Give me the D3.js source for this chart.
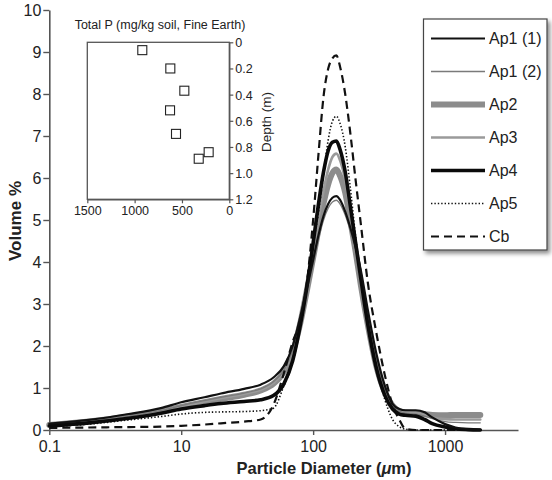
<!DOCTYPE html>
<html>
<head>
<meta charset="utf-8">
<script src="https://cdn.jsdelivr.net/npm/d3@7"></script>
<style>
  html, body { margin: 0; padding: 0; background: #fff; }
  svg { display: block; font-family: "Liberation Sans", Arial, Helvetica, sans-serif; }
</style>
</head>
<body>
<svg id="chart" width="552" height="480"></svg>
<script>
// ---------- data ----------
const diameters = [1,2,4,7,10,15,20,30,40,50,60,70,80,90,100,110,120,130,140,150,160,175,190,210,230,260,300,350,400,450,500,600,700,800,1000,1200,1500,1850];
const ap1a = [0.15,0.24,0.38,0.52,0.66,0.78,0.87,0.98,1.08,1.25, 1.52,2.0,2.7,3.4,4.05,4.65,5.1,5.38,5.53,5.57, 5.48,5.2,4.85,4.35,3.8,2.85,1.85,1.05,0.62,0.5, 0.47,0.47,0.42,0.3,0.14,0.06,0.02,0.01];
const ap1b = [0.13,0.2,0.33,0.46,0.58,0.7,0.78,0.88,0.98,1.15, 1.42,1.9,2.6,3.3,3.95,4.55,5.0,5.28,5.43,5.47, 5.38,5.12,4.78,4.3,3.7,2.75,1.75,0.98,0.6,0.45, 0.4,0.38,0.33,0.27,0.2,0.18,0.17,0.17];
const ap2  = [0.12,0.2,0.32,0.45,0.55,0.66,0.74,0.84,0.94,1.1, 1.38,1.85,2.55,3.35,4.1,4.8,5.4,5.85,6.12,6.2, 6.05,5.65,5.05,4.25,3.45,2.5,1.55,0.9,0.58,0.45, 0.42,0.4,0.38,0.36,0.35,0.36,0.36,0.36];
const ap3  = [0.12,0.2,0.32,0.45,0.56,0.68,0.76,0.86,0.96,1.12, 1.4,1.88,2.6,3.45,4.3,5.05,5.7,6.2,6.5,6.58, 6.42,5.95,5.3,4.4,3.55,2.5,1.5,0.85,0.55,0.45, 0.42,0.4,0.35,0.3,0.26,0.25,0.25,0.25];
const ap4  = [0.1,0.17,0.28,0.4,0.5,0.58,0.63,0.68,0.72,0.82, 1.1,1.65,2.5,3.45,4.45,5.4,6.15,6.65,6.85,6.88, 6.68,6.15,5.4,4.45,3.6,2.5,1.5,0.82,0.5,0.38, 0.35,0.33,0.25,0.15,0.07,0.03,0.01,0];
const ap5  = [0.08,0.14,0.24,0.32,0.38,0.42,0.43,0.44,0.46,0.52, 1.05,1.6,2.45,3.4,4.4,5.2,6.1,6.9,7.35,7.47, 7.3,6.75,5.85,4.6,3.6,2.55,1.55,0.72,0.25,0.08, 0.02,0,0,0,0,0,0,0];
const cb   = [0.05,0.06,0.07,0.08,0.1,0.13,0.16,0.2,0.25,0.6, 1.35,2.1,2.6,3.55,5.0,6.6,7.95,8.6,8.85,8.92, 8.65,8.0,7.15,5.95,4.9,3.5,2.35,1.3,0.6,0.25, 0.03,0,0,0,0,0,0,0];

const seriesNames = ["Ap1 (1)","Ap1 (2)","Ap2","Ap3","Ap4","Ap5","Cb"];
const seriesValues = [ap1a, ap1b, ap2, ap3, ap4, ap5, cb];

const xTickValues = [1,10,100,1000];
const xTickLabels = ["0.1","10","100","1000"];
const yTickValues = [0,1,2,3,4,5,6,7,8,9,10];

// inset data
const insetP = [919, 623, 475, 626, 563, 323, 218];
const insetDepth = [0.06, 0.20, 0.37, 0.52, 0.70, 0.89, 0.84];
const insetXTicks = [1500, 1000, 500, 0];
const insetYTicks = [0, 0.2, 0.4, 0.6, 0.8, 1.0, 1.2];
const insetYLabels = ["0","0.2","0.4","0.6","0.8","1.0","1.2"];

// ---------- styles (per series, by index) ----------
const styles = [
  {color:"#111", width:2.2, dash:null},
  {color:"#7a7a7a", width:1.3, dash:null},
  {color:"#8c8c8c", width:6, dash:null},
  {color:"#9a9a9a", width:2.6, dash:null},
  {color:"#0a0a0a", width:3.6, dash:null},
  {color:"#111", width:1.6, dash:"1.4,2"},
  {color:"#111", width:2.2, dash:"8,5"}
];
const drawOrder = [2,3,1,6,5,4,0];

const svg = d3.select("#chart");
const axisColor = "#555";
const textColor = "#222";

// ---------- main scales ----------
const x = d3.scaleLog().domain([1, Math.pow(10, 3.553)]).range([49.3, 518]);
const y = d3.scaleLinear().domain([0, 10]).range([430, 10]);

// axes
const gx = svg.append("g").attr("transform", "translate(0,430)")
  .call(d3.axisBottom(x).tickValues(xTickValues).tickFormat((d,i) => xTickLabels[i]).tickSize(5).tickSizeOuter(0));
const gy = svg.append("g").attr("transform", "translate(49.3,0)")
  .call(d3.axisLeft(y).tickValues(yTickValues).tickFormat(d3.format("d")).tickSize(6).tickSizeOuter(0));
[gx, gy].forEach(g => {
  g.select(".domain").attr("stroke", axisColor).attr("stroke-width", 1.6);
  g.selectAll(".tick line").attr("stroke", axisColor).attr("stroke-width", 1.4);
  g.selectAll(".tick text").attr("fill", textColor).style("font-size", "16px")
    .style("font-family", "'Liberation Sans', Arial, sans-serif");
});
gx.selectAll(".tick text").attr("dy", "0").attr("y", 22);
gy.selectAll(".tick text").attr("x", -8).attr("dy", "0.36em");

// axis titles
const xt = svg.append("text").attr("x", 324).attr("y", 474).attr("text-anchor", "middle")
  .attr("fill", textColor).style("font-size", "16.5px").style("font-weight", "bold");
xt.append("tspan").text("Particle Diameter (");
xt.append("tspan").style("font-style", "italic").text("μ");
xt.append("tspan").text("m)");

svg.append("text").attr("transform", "translate(21,221) rotate(-90)").attr("text-anchor", "middle")
  .attr("fill", textColor).style("font-size", "17px").style("font-weight", "bold").text("Volume %");

// ---------- curves ----------
const line = d3.line().x(d => x(d[0])).y(d => y(d[1])).curve(d3.curveMonotoneX);
drawOrder.forEach(i => {
  const pts = diameters.map((dv, k) => [dv, seriesValues[i][k]]);
  const st = styles[i];
  svg.append("path").datum(pts).attr("d", line).attr("fill", "none")
    .attr("stroke", st.color).attr("stroke-width", st.width)
    .attr("stroke-dasharray", st.dash).attr("stroke-linejoin", "round")
    .attr("stroke-linecap", st.dash ? "butt" : "round");
});

// ---------- inset ----------
const ix = d3.scaleLinear().domain([1500, 0]).range([87.3, 229.3]);
const iy = d3.scaleLinear().domain([0, 1.2]).range([42.3, 199.3]);
const inset = svg.append("g");
inset.append("rect").attr("x", ix(1500)).attr("y", iy(0)).attr("width", ix(0) - ix(1500)).attr("height", iy(1.2) - iy(0))
  .attr("fill", "#fff").attr("stroke", axisColor).attr("stroke-width", 1.3);
const igx = inset.append("g").attr("transform", `translate(0,${iy(1.2)})`)
  .call(d3.axisBottom(ix).tickValues(insetXTicks).tickFormat(d3.format("d")).tickSize(4).tickSizeOuter(0));
const igy = inset.append("g").attr("transform", `translate(${ix(0)},0)`)
  .call(d3.axisRight(iy).tickValues(insetYTicks).tickFormat((d,i) => insetYLabels[i]).tickSize(4).tickSizeOuter(0));
[igx, igy].forEach(g => {
  g.select(".domain").attr("stroke", axisColor).attr("stroke-width", 1.3);
  g.selectAll(".tick line").attr("stroke", axisColor).attr("stroke-width", 1.2);
  g.selectAll(".tick text").attr("fill", textColor).style("font-size", "12.5px")
    .style("font-family", "'Liberation Sans', Arial, sans-serif");
});
igx.selectAll(".tick text").attr("dy", "0").attr("y", 16);
igy.selectAll(".tick text").attr("x", 6).attr("dy", "0.36em");

inset.append("text").attr("x", 160).attr("y", 29).attr("text-anchor", "middle")
  .attr("fill", textColor).style("font-size", "12.5px").text("Total P (mg/kg soil, Fine Earth)");
inset.append("text").attr("transform", "translate(271,122) rotate(-90)").attr("text-anchor", "middle")
  .attr("fill", textColor).style("font-size", "13.5px").text("Depth (m)");

const sq = 9;
inset.selectAll("rect.pt").data(insetP.map((p, i) => [p, insetDepth[i]])).join("rect")
  .attr("class", "pt")
  .attr("x", d => ix(d[0]) - sq / 2).attr("y", d => iy(d[1]) - sq / 2)
  .attr("width", sq).attr("height", sq)
  .attr("fill", "#fff").attr("stroke", "#222").attr("stroke-width", 1.1);

// ---------- legend ----------
const defs = svg.append("defs");
const f = defs.append("filter").attr("id", "shadow").attr("x", "-10%").attr("y", "-10%").attr("width", "130%").attr("height", "130%");
f.append("feDropShadow").attr("dx", 2.5).attr("dy", 3).attr("stdDeviation", 2).attr("flood-color", "#000").attr("flood-opacity", 0.45);

const lg = svg.append("g");
lg.append("rect").attr("x", 423.5).attr("y", 19).attr("width", 123.5).attr("height", 231)
  .attr("fill", "#fff").attr("stroke", "#444").attr("stroke-width", 1.2).attr("filter", "url(#shadow)");
seriesNames.forEach((name, i) => {
  const ry = 38.5 + 33 * i;
  const st = styles[i];
  lg.append("line").attr("x1", 431).attr("x2", 485).attr("y1", ry).attr("y2", ry)
    .attr("stroke", st.color).attr("stroke-width", st.width).attr("stroke-dasharray", st.dash);
  lg.append("text").attr("x", 489).attr("y", ry).attr("dy", "0.36em")
    .attr("fill", textColor).style("font-size", "16px").text(name);
});
</script>
</body>
</html>
